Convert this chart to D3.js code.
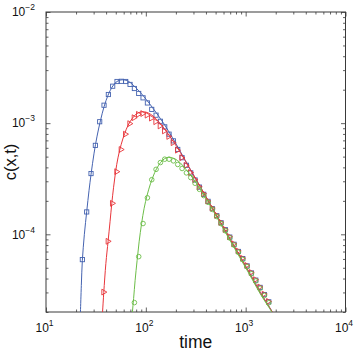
<!DOCTYPE html>
<html><head><meta charset="utf-8">
<script src="https://cdn.jsdelivr.net/npm/d3@7"></script>
<style>html,body{margin:0;padding:0;background:#fff;} svg{display:block;}</style>
</head><body><svg id="chart" width="355" height="352"></svg>
<script>
// ---- data ----
const sampleTimes = [23.13, 25.56, 28.25, 31.22, 34.50, 38.13, 42.13, 46.56, 51.44, 56.89, 62.86, 69.47, 76.80, 84.86, 93.78, 103.7, 114.6, 126.6, 139.9, 154.6, 170.9, 188.8, 208.7, 230.7, 254.9, 281.8, 311.4, 344.1, 380.3, 420.3, 464.5, 513.3, 567.4, 627.0, 692.9, 765.8, 846.3, 935.4, 1034, 1143, 1263, 1395, 1542, 1704];
const blueValues = [5.92e-5, 1.59e-4, 3.52e-4, 6.31e-4, 1.03e-3, 1.45e-3, 1.81e-3, 2.15e-3, 2.37e-3, 2.38e-3, 2.37e-3, 2.23e-3, 2.05e-3, 1.85e-3, 1.69e-3, 1.52e-3, 1.33e-3, 1.18e-3, 1.04e-3, 9.26e-4, 7.96e-4, 6.93e-4, 5.80e-4, 4.89e-4, 4.18e-4, 3.57e-4, 3.08e-4, 2.66e-4, 2.29e-4, 1.98e-4, 1.70e-4, 1.47e-4, 1.27e-4, 1.10e-4, 9.44e-5, 8.13e-5, 7.01e-5, 6.04e-5, 5.20e-5, 4.49e-5, 3.87e-5, 3.33e-5, 2.87e-5, 2.47e-5];
const redValues = [null, null, null, null, null, 3.02e-5, 8.65e-5, 1.90e-4, 3.66e-4, 5.79e-4, 7.96e-4, 9.90e-4, 1.12e-3, 1.20e-3, 1.22e-3, 1.18e-3, 1.11e-3, 1.03e-3, 9.44e-4, 8.51e-4, 7.59e-4, 6.67e-4, 5.71e-4, 4.89e-4, 4.17e-4, 3.60e-4, 3.11e-4, 2.68e-4, 2.32e-4, 1.99e-4, 1.72e-4, 1.485e-4, 1.28e-4, 1.105e-4, 9.53e-5, 8.21e-5, 7.08e-5, 6.10e-5, 5.25e-5, 4.54e-5, 3.91e-5, 3.36e-5, 2.90e-5, 2.49e-5];
const greenValues = [null, null, null, null, null, null, null, null, null, null, null, null, 2.43e-5, 6.30e-5, 1.25e-4, 2.13e-4, 3.10e-4, 3.84e-4, 4.42e-4, 4.74e-4, 4.74e-4, 4.58e-4, 4.25e-4, 3.91e-4, 3.57e-4, 3.24e-4, 2.88e-4, 2.54e-4, 2.23e-4, 1.94e-4, 1.675e-4, 1.446e-4, 1.247e-4, 1.076e-4, 9.28e-5, 7.99e-5, 6.89e-5, 5.94e-5, 5.11e-5, 4.41e-5, 3.80e-5, 3.27e-5, 2.82e-5, 2.42e-5];

const blueFitTimes = [22.03, 22.13, 22.59, 23.13, 24.23, 25.59, 26.99, 28.27, 30.30, 32.47, 35.21, 38.16, 41.87, 45.92, 50.36, 55.24, 60.59, 66.45, 74.58, 83.71, 93.96, 107.9, 126.9, 152.6, 183.5, 220.8, 278.1, 350.5, 441.5, 556.2, 700.7, 882.7, 1112, 1401, 1849, 2004];
const blueFitValues = [1.75e-5, 2.0e-5, 3.47e-5, 5.83e-5, 1.0e-4, 1.61e-4, 2.49e-4, 3.47e-4, 5.37e-4, 7.64e-4, 1.064e-3, 1.408e-3, 1.788e-3, 2.110e-3, 2.340e-3, 2.440e-3, 2.450e-3, 2.390e-3, 2.200e-3, 1.983e-3, 1.768e-3, 1.514e-3, 1.243e-3, 9.80e-4, 7.48e-4, 5.59e-4, 3.85e-4, 2.68e-4, 1.864e-4, 1.296e-4, 9.02e-5, 6.27e-5, 4.36e-5, 3.00e-5, 2.0e-5, 1.75e-5];
const redFitTimes = [36.58, 36.87, 37.91, 39.79, 41.87, 43.85, 45.60, 47.53, 49.78, 52.75, 56.54, 61.30, 66.45, 72.88, 79.93, 87.65, 96.13, 105.5, 118.4, 135.9, 159.8, 187.8, 220.8, 278.1, 350.5, 441.5, 556.2, 700.7, 882.7, 1112, 1401, 1849, 2004];
const redFitValues = [1.75e-5, 2.0e-5, 3.00e-5, 5.48e-5, 8.65e-5, 1.31e-4, 1.90e-4, 2.65e-4, 3.66e-4, 4.94e-4, 6.40e-4, 8.04e-4, 9.59e-4, 1.098e-3, 1.205e-3, 1.256e-3, 1.264e-3, 1.236e-3, 1.156e-3, 1.021e-3, 8.47e-4, 6.88e-4, 5.48e-4, 3.85e-4, 2.68e-4, 1.864e-4, 1.296e-4, 9.02e-5, 6.27e-5, 4.36e-5, 3.00e-5, 2.0e-5, 1.75e-5];
const greenFitTimes = [72.55, 73.39, 75.44, 78.10, 81.79, 85.66, 90.76, 96.16, 103.0, 111.7, 122.5, 134.4, 147.4, 161.7, 177.3, 196.7, 220.8, 253.6, 298.2, 350.5, 441.5, 556.2, 700.7, 882.7, 1112, 1401, 1849, 2004];
const greenFitValues = [1.75e-5, 2.0e-5, 2.65e-5, 3.85e-5, 5.83e-5, 8.56e-5, 1.256e-4, 1.715e-4, 2.246e-4, 2.880e-4, 3.581e-4, 4.183e-4, 4.642e-4, 4.890e-4, 4.910e-4, 4.759e-4, 4.406e-4, 3.812e-4, 3.162e-4, 2.543e-4, 1.806e-4, 1.256e-4, 8.74e-5, 6.08e-5, 4.23e-5, 2.91e-5, 1.97e-5, 1.73e-5];

const xTickExponents = [1, 2, 3, 4];
const yTickExponents = [-2, -3, -4];
const xLabel = "time";
const yLabel = "c(x,t)";

// ---- drawing ----
const svg = d3.select("#chart");
const x = d3.scaleLog().domain([10, 1e4]).range([46, 345.5]);
const y = d3.scaleLog().domain([2e-5, 1e-2]).range([312, 12]);
const axisColor = "#3a3a3a";
const colors = {blue: "#4563b0", red: "#e8353a", green: "#6cbd48"};

svg.append("defs").append("clipPath").attr("id", "plotclip")
  .append("rect").attr("x", x.range()[0]).attr("y", y.range()[1])
  .attr("width", x.range()[1] - x.range()[0]).attr("height", y.range()[0] - y.range()[1]);

const xMinor = [], xMajor = xTickExponents.map(e => Math.pow(10, e));
for (let e = 1; e < 4; e++) for (let d = 2; d <= 9; d++) xMinor.push(d * Math.pow(10, e));
const yMinor = [], yMajor = yTickExponents.map(e => Math.pow(10, e));
for (let e = -5; e < -2; e++) for (let d = 2; d <= 9; d++) { const v = d * Math.pow(10, e); if (v >= 2e-5 && v <= 1e-2) yMinor.push(v); }

function styleAxis(g) {
  g.selectAll("path.domain").remove();
  g.selectAll("line").attr("stroke", axisColor).attr("stroke-width", 0.8);
}
const minorLen = 2.5, majorLen = 4.5;
[[xMinor, minorLen], [xMajor, majorLen]].forEach(([vals, len]) => {
  svg.append("g").attr("transform", `translate(0,${y.range()[0]})`)
    .call(d3.axisBottom(x).tickValues(vals).tickSize(-len).tickFormat("")).call(styleAxis);
  svg.append("g").attr("transform", `translate(0,${y.range()[1]})`)
    .call(d3.axisTop(x).tickValues(vals).tickSize(-len).tickFormat("")).call(styleAxis);
});
[[yMinor, minorLen], [yMajor, majorLen]].forEach(([vals, len]) => {
  svg.append("g").attr("transform", `translate(${x.range()[0]},0)`)
    .call(d3.axisLeft(y).tickValues(vals).tickSize(-len).tickFormat("")).call(styleAxis);
  svg.append("g").attr("transform", `translate(${x.range()[1]},0)`)
    .call(d3.axisRight(y).tickValues(vals).tickSize(-len).tickFormat("")).call(styleAxis);
});

svg.append("rect").attr("x", x.range()[0]).attr("y", y.range()[1])
  .attr("width", x.range()[1] - x.range()[0]).attr("height", y.range()[0] - y.range()[1])
  .attr("fill", "none").attr("stroke", axisColor).attr("stroke-width", 1);

const font = "'Liberation Sans', Arial, Helvetica, sans-serif";
function expLabel(g, e) {
  g.append("tspan").text("10");
  g.append("tspan").attr("font-size", 8.5).attr("dy", -6).text(String(e).replace("-", "\u2212"));
}
xTickExponents.forEach(e => {
  const t = svg.append("text").attr("x", x(Math.pow(10, e)) - 1.5).attr("y", 331.5)
    .attr("text-anchor", "middle").attr("font-family", font).attr("font-size", 12).attr("fill", "#111");
  expLabel(t, e);
});
yTickExponents.forEach(e => {
  const t = svg.append("text").attr("x", 35).attr("y", y(Math.pow(10, e)) + 4.3)
    .attr("text-anchor", "end").attr("font-family", font).attr("font-size", 12).attr("fill", "#111");
  expLabel(t, e);
});

svg.append("text").attr("x", (x.range()[0] + x.range()[1]) / 2).attr("y", 348)
  .attr("text-anchor", "middle").attr("font-family", font).attr("font-size", 17.5).attr("fill", "#111").text(xLabel);
svg.append("text").attr("transform", `translate(16,${(y.range()[0] + y.range()[1]) / 2}) rotate(-90)`)
  .attr("text-anchor", "middle").attr("font-family", font).attr("font-size", 16.5).attr("fill", "#111").text(yLabel);

const plot = svg.append("g").attr("clip-path", "url(#plotclip)");
const line = d3.line().x(d => x(d[0])).y(d => y(d[1])).curve(d3.curveCatmullRom.alpha(0.5));

const series = [
  {name: "blue", fitT: blueFitTimes, fitV: blueFitValues, vals: blueValues, marker: "square"},
  {name: "red", fitT: redFitTimes, fitV: redFitValues, vals: redValues, marker: "triangle"},
  {name: "green", fitT: greenFitTimes, fitV: greenFitValues, vals: greenValues, marker: "circle"}
];
const triPath = "M2.8,0 L-2.2,-2.9 L-2.2,2.9 Z";
series.forEach(s => {
  const col = colors[s.name];
  plot.append("path").datum(s.fitT.map((t, i) => [t, s.fitV[i]]))
    .attr("d", line).attr("fill", "none").attr("stroke", col).attr("stroke-width", 1);
  const pts = sampleTimes.map((t, i) => [t, s.vals[i]]).filter(d => d[1] != null);
  const g = plot.append("g").attr("fill", "none").attr("stroke", col).attr("stroke-width", 0.9);
  if (s.marker === "square") {
    g.selectAll("rect").data(pts).join("rect")
      .attr("x", d => x(d[0]) - 2.1).attr("y", d => y(d[1]) - 2.1).attr("width", 4.2).attr("height", 4.2);
  } else if (s.marker === "triangle") {
    g.selectAll("path").data(pts).join("path")
      .attr("transform", d => `translate(${x(d[0])},${y(d[1])})`).attr("d", triPath);
  } else {
    g.selectAll("circle").data(pts).join("circle")
      .attr("cx", d => x(d[0])).attr("cy", d => y(d[1])).attr("r", 2.3);
  }
});
</script></body></html>
